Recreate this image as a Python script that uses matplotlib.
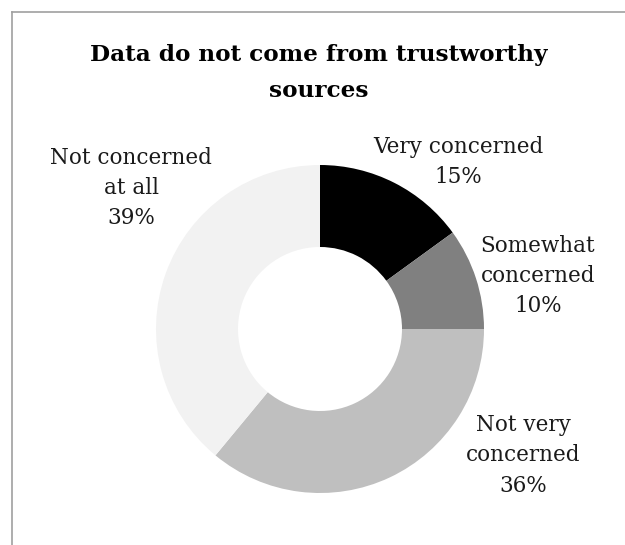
import matplotlib
matplotlib.use("Agg")
import matplotlib.pyplot as plt
from matplotlib.lines import Line2D

categories = ["Very concerned", "Somewhat\nconcerned", "Not very\nconcerned", "Not concerned\nat all"]
values = [15, 10, 36, 39]
colors = ["#000000", "#808080", "#bfbfbf", "#f2f2f2"]
title_lines = ["Data do not come from trustworthy", "sources"]

W, H, DPI = 625, 545, 100
fig = plt.figure(figsize=(W / DPI, H / DPI), dpi=DPI)
fig.patch.set_facecolor("white")

# axes laid out in pixel units so the donut sits at (cx, cy)
cx, cy, half = 320, 545 - 329, 170
ax = fig.add_axes([(cx - half) / W, (cy - half) / H, 2 * half / W, 2 * half / H])

radius = 164
ax.pie(values, colors=colors, startangle=90, counterclock=False, radius=radius,
       wedgeprops=dict(width=radius * 0.5, edgecolor="none"), center=(0, 0), frame=False)
ax.set_xlim(-half, half)
ax.set_ylim(-half, half)
ax.set_aspect("equal")
ax.axis("off")

# label anchors (pixel offsets from the donut centre)
label_pos = [(138, 167), (218, 53), (203, -126), (-189, 141)]
for cat, val, (dx, dy) in zip(categories, values, label_pos):
    ax.text(dx, dy, f"{cat}\n{val}%", ha="center", va="center", fontsize=15.5,
            family="DejaVu Serif", color="#1a1a1a", linespacing=1.5, clip_on=False)

# two-line bold title, placed by baseline
for line, baseline in zip(title_lines, [61, 97]):
    fig.text(319 / W, 1 - baseline / H, line, ha="center", va="baseline", fontsize=16.7,
             family="DejaVu Serif", fontweight="bold", color="#000000")

# chart frame (top and left edges)
fx, fy = 11.5 / W, 1 - 11.5 / H
fig.add_artist(Line2D([fx, 1], [fy, fy], transform=fig.transFigure, color="#a0a0a0", lw=1.2))
fig.add_artist(Line2D([fx, fx], [0, fy], transform=fig.transFigure, color="#a0a0a0", lw=1.2))

fig.savefig("out.png", dpi=DPI, facecolor="white")
